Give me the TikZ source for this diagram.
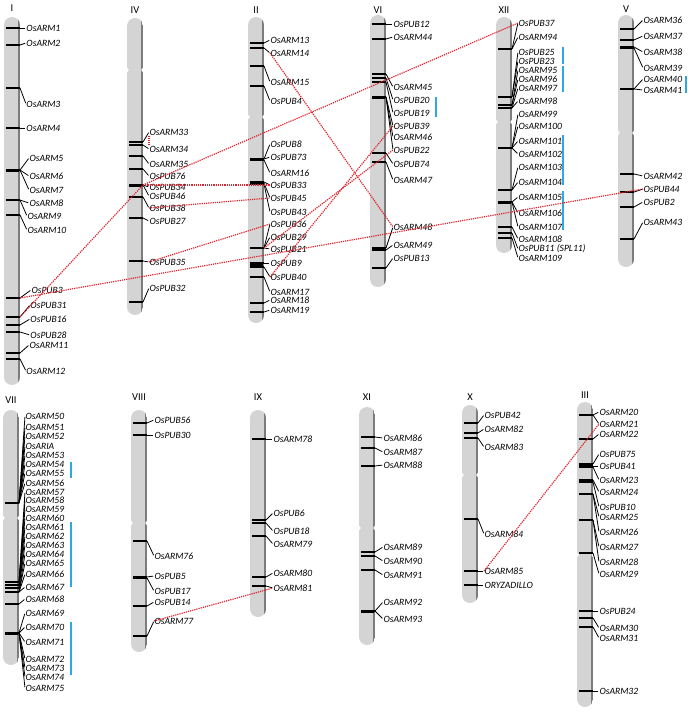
\documentclass[tikz,border=0pt]{standalone}
\usepackage{fontspec}
\newfontfamily\genefont{Carlito}
\usepackage{tikz}
\usepackage{xcolor}
\definecolor{chromgray}{HTML}{D4D4D4}
\definecolor{chromedge}{HTML}{7C7C7C}
\definecolor{duplred}{HTML}{E0232C}
\definecolor{tandemblue}{HTML}{2EA9E0}

\begin{document}
\begin{tikzpicture}[
    x=1pt, y=-1pt,
    gene/.style={anchor=west, inner sep=0.3pt, font=\genefont\itshape\fontsize{9.6}{10}\selectfont},
    chrlabel/.style={inner sep=0pt, font=\genefont\fontsize{10.5}{11}\selectfont},
    tick/.style={line width=1.1pt},
    link/.style={line width=0.8pt, shorten >=0.8pt},
    dupl/.style={duplred, line width=1.2pt, dash pattern=on 1.2pt off 1pt},
    tandem/.style={tandemblue, line width=1.4pt}
]
    \useasboundingbox (0,0) rectangle (688,713);

    % chromosomes
    \foreach \cx/\ct/\cb/\cn/\cy in {4/17/385/I/8, 127/18/315/IV/10, 248/17/323/II/10, 370/15/287/VI/10, 496/17/253/XII/10, 618/15/267/V/9,
        3/410/665/VII/400, 131/410/652/VIII/397, 250/410/617/IX/397, 359/407/645/XI/397, 462/405/603/X/397, 577/402/707/III/395} {
        \begin{scope}
            \clip[rounded corners=8pt] (\cx,\ct) rectangle (\cx+16,\cb);
            \fill[chromgray] (\cx,\ct) rectangle (\cx+16,\cb);
            \fill[chromedge] (\cx+14.4,\ct) rectangle (\cx+16,\cb);
        \end{scope}
        \node[chrlabel] (chr\cn) at (\cx+8,\cy) {\cn};
    }
    % centromere notches
    \foreach \cx/\ny in {127/70, 248/117, 496/122, 618/133, 3/518, 131/523, 359/528, 462/475, 577/555} {
        \fill[white] (\cx-0.5,\ny-3) -- (\cx+1.8,\ny) -- (\cx-0.5,\ny+3) -- cycle;
        \fill[white] (\cx+16.5,\ny-3) -- (\cx+14.2,\ny) -- (\cx+16.5,\ny+3) -- cycle;
    }

    % I
    \foreach \ty/\ly/\lx/\nm in {28/28/26/OsARM1, 45/43/26/OsARM2, 88/104/26/OsARM3, 128/128/26/OsARM4, 170/158/29/OsARM5,
        170/176/29/OsARM6, 170/190/29/OsARM7, 200/203/29/OsARM8, 200/216/27/OsARM9, 215/230/27/OsARM10, 298/290/31/OsPUB3,
        317/305/30/OsPUB31, 325/319/30/OsPUB16, 332/335/30/OsPUB28, 353/345/29/OsARM11, 359/371/26/OsARM12} {
        \node[gene] (\nm) at (\lx,\ly) {\nm};
        \draw[tick] (6,\ty) -- (20,\ty) coordinate (t\nm);
        \draw[link] (t\nm) -- (\nm.west);
    }
    % IV
    \foreach \ty/\ly/\nm in {142/132/OsARM33, 145/149/OsARM34, 156/164/OsARM35, 169/176/OsPUB76, 185/187/OsPUB34, 185/196/OsPUB46,
        197/208/OsPUB38, 218/221/OsPUB27, 261/262/OsPUB35, 302/288/OsPUB32} {
        \node[gene] (\nm) at (149,\ly) {\nm};
        \draw[tick] (129,\ty) -- (143,\ty) coordinate (t\nm);
        \draw[link] (t\nm) -- (\nm.west);
    }
    % II
    \foreach \ty/\ly/\nm in {43/40/OsARM13, 48/53/OsARM14, 66/82/OsARM15, 86/101/OsPUB4, 159/144/OsPUB8, 159/157/OsPUB73,
        160/173/OsARM16, 182/185/OsPUB33, 183/198/OsPUB45, 184/212/OsPUB43, 248/224/OsPUB36, 248/237/OsPUB29, 248/249/OsPUB21,
        263/263/OsPUB9, 267/277/OsPUB40, 277/292/OsARM17, 303/300/OsARM18, 312/310/OsARM19} {
        \node[gene] (\nm) at (270,\ly) {\nm};
        \draw[tick] (250,\ty) -- (264,\ty) coordinate (t\nm);
        \draw[link] (t\nm) -- (\nm.west);
    }
    % VI
    \foreach \ty/\ly/\nm in {24/24/OsPUB12, 39/37/OsARM44, 74/87/OsARM45, 78/100/OsPUB20, 82/113/OsPUB19, 97/126/OsPUB39,
        97/137/OsARM46, 97/150/OsPUB22, 153/164/OsPUB74, 162/180/OsARM47, 248/227/OsARM48, 250/245/OsARM49, 268/258/OsPUB13} {
        \node[gene] (\nm) at (393,\ly) {\nm};
        \draw[tick] (372,\ty) -- (386,\ty) coordinate (t\nm);
        \draw[link] (t\nm) -- (\nm.west);
    }
    % XII
    \foreach \ty/\ly/\nm in {49/23/OsPUB37, 49/37/OsARM94, 97/52/OsPUB25, 97/61/OsPUB23, 105/70/OsARM95, 105/79/OsARM96,
        108/88/OsARM97, 108/101/OsARM98, 148/114/OsARM99, 148/126/OsARM100, 148/141/OsARM101, 148/154/OsARM102,
        190/167/OsARM103, 190/182/OsARM104, 202/197/OsARM105, 202/213/OsARM106, 202/227/OsARM107, 227/239/OsARM108,
        238/258/OsARM109} {
        \node[gene] (\nm) at (518,\ly) {\nm};
        \draw[tick] (498,\ty) -- (512,\ty) coordinate (t\nm);
        \draw[link] (t\nm) -- (\nm.west);
    }
    \node[gene] (OsPUB11) at (518,249) {OsPUB11 (SPL11)};
    \draw[tick] (498,233) -- (512,233) coordinate (tOsPUB11);
    \draw[link] (tOsPUB11) -- (OsPUB11.west);
    % V
    \foreach \ty/\ly/\nm in {29/20/OsARM36, 40/36/OsARM37, 47/52/OsARM38, 48/68/OsARM39, 89/79/OsARM40, 89/90/OsARM41,
        174/176/OsARM42, 192/189/OsPUB44, 207/202/OsPUB2, 239/222/OsARM43} {
        \node[gene] (\nm) at (643,\ly) {\nm};
        \draw[tick] (620,\ty) -- (634,\ty) coordinate (t\nm);
        \draw[link] (t\nm) -- (\nm.west);
    }
    % VII
    \foreach \ty/\ly/\nm in {503/416/OsARM50, 503/427/OsARM51, 503/436/OsARM52, 503/446/OsARIA, 503/455/OsARM53,
        503/464/OsARM54, 503/473/OsARM55, 503/483/OsARM56, 582/492/OsARM57, 582/500.5/OsARM58, 582/509/OsARM59,
        585/518/OsARM60, 585/527/OsARM61, 588/536/OsARM62, 588/545/OsARM63, 592/554/OsARM64, 592/563/OsARM65,
        592/574/OsARM66, 592/587/OsARM67, 604/599/OsARM68, 633/613/OsARM69, 633/627/OsARM70, 633/642/OsARM71,
        633/659/OsARM72, 633/668/OsARM73, 633/677/OsARM74, 633/688/OsARM75} {
        \node[gene] (\nm) at (25,\ly) {\nm};
        \draw[tick] (5,\ty) -- (19,\ty) coordinate (t\nm);
        \draw[link] (t\nm) -- (\nm.west);
    }
    % VIII
    \foreach \ty/\ly/\nm in {423/420/OsPUB56, 435/435/OsPUB30, 541/556/OsARM76, 577/576/OsPUB5, 578/591/OsPUB17,
        606/602/OsPUB14, 636/621/OsARM77} {
        \node[gene] (\nm) at (154,\ly) {\nm};
        \draw[tick] (133,\ty) -- (147,\ty) coordinate (t\nm);
        \draw[link] (t\nm) -- (\nm.west);
    }
    % IX
    \foreach \ty/\ly/\nm in {439/439/OsARM78, 520/513/OsPUB6, 523/531/OsPUB18, 536/544/OsARM79, 577/573/OsARM80,
        586/588/OsARM81} {
        \node[gene] (\nm) at (273,\ly) {\nm};
        \draw[tick] (252,\ty) -- (266,\ty) coordinate (t\nm);
        \draw[link] (t\nm) -- (\nm.west);
    }
    % XI
    \foreach \ty/\ly/\nm in {437/438/OsARM86, 448/452/OsARM87, 466/465/OsARM88, 552/547/OsARM89, 556/561/OsARM90,
        570/575/OsARM91, 611/602/OsARM92, 611/619/OsARM93} {
        \node[gene] (\nm) at (383,\ly) {\nm};
        \draw[tick] (361,\ty) -- (375,\ty) coordinate (t\nm);
        \draw[link] (t\nm) -- (\nm.west);
    }
    % X
    \foreach \ty/\ly/\nm in {423/415/OsPUB42, 433/429/OsARM82, 438/447/OsARM83, 519/534/OsARM84, 571/571/OsARM85,
        585/585/ORYZADILLO} {
        \node[gene] (\nm) at (484,\ly) {\nm};
        \draw[tick] (464,\ty) -- (478,\ty) coordinate (t\nm);
        \draw[link] (t\nm) -- (\nm.west);
    }
    % III
    \foreach \ty/\ly/\nm in {415/412/OsARM20, 415/424/OsARM21, 439/434/OsARM22, 464/454/OsPUB75, 466/466/OsPUB41,
        467/480/OsARM23, 480/492/OsARM24, 482/507/OsPUB10, 494/517/OsARM25, 494/532/OsARM26, 520/547/OsARM27,
        520/562/OsARM28, 553/574/OsARM29, 611/611/OsPUB24, 618/628/OsARM30, 627/638/OsARM31, 691/691/OsARM32} {
        \node[gene] (\nm) at (599,\ly) {\nm};
        \draw[tick] (579,\ty) -- (593,\ty) coordinate (t\nm);
        \draw[link] (t\nm) -- (\nm.west);
    }

    % heavier marks where loci sit close together
    \foreach \cx/\ty in {4/170, 127/185, 248/159, 248/265, 370/97, 496/202, 3/633, 131/577, 359/611}
        \draw[line width=3pt] (\cx+2,\ty) -- (\cx+15,\ty);

    % tandem clusters
    \foreach \bx/\ya/\yb in {436/97/117, 563/47/64, 563/66/92, 563/135/185, 563/191/230, 686/76/93,
        71/462/478, 71/522/587, 71/622/675}
        \draw[tandem] (\bx,\ya) -- (\bx,\yb);

    % segmental duplications
    \draw[dupl] (tOsPUB31) -- (tOsPUB34) -- (OsPUB37.west);
    \draw[dupl] (tOsPUB34) -- (OsPUB33.west);
    \draw[dupl] (OsPUB38.west) -- (OsPUB45.west);
    \draw[dupl] (OsPUB35.west) -- (OsPUB36.west);
    \draw[dupl] (tOsPUB3) -- (OsPUB44.west);
    \draw[dupl] (OsARM14.west) -- (OsARM48.west);
    \draw[dupl] (OsPUB40.west) -- (OsPUB39.west);
    \draw[dupl] (tOsPUB21) -- (OsPUB22.west);
    \draw[dupl] (OsARM33.south west) -- (OsARM34.north west);
    \draw[dupl] (OsARM77.west) -- (OsARM81.west);
    \draw[dupl] (OsARM85.west) -- (OsARM21.west);
\end{tikzpicture}
\end{document}
